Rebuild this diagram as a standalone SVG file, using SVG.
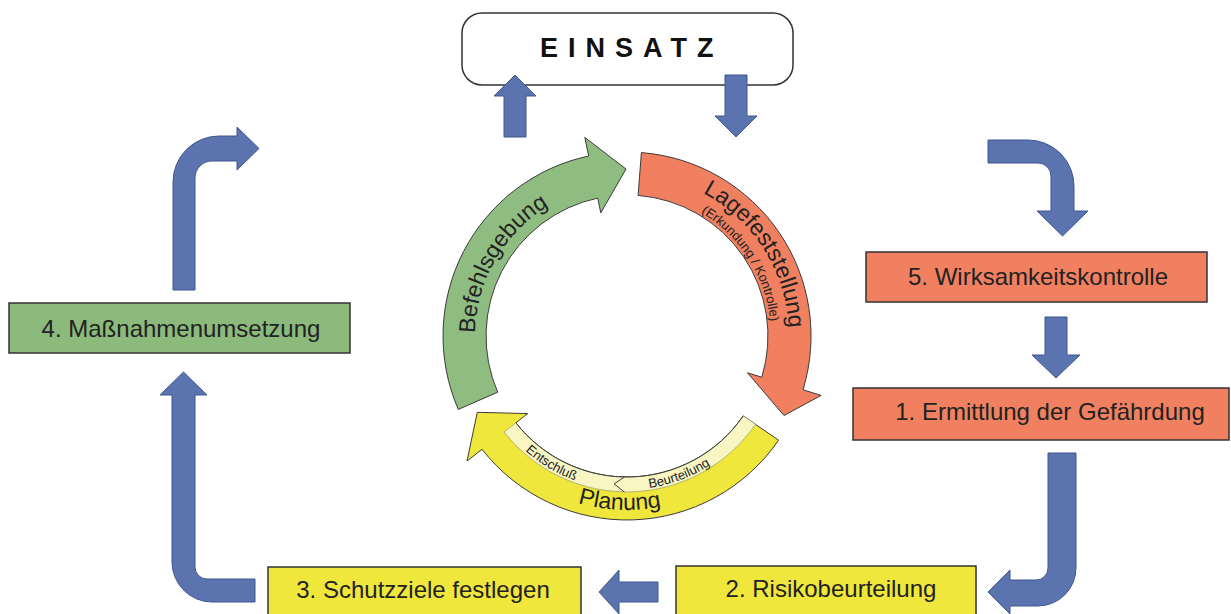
<svg xmlns="http://www.w3.org/2000/svg" width="1231" height="614" viewBox="0 0 1231 614">
<style>
.box{stroke:#333;stroke-width:1.5}
.lbl{font-family:"Liberation Sans",Arial,sans-serif;font-size:24px;fill:#222;text-anchor:middle}
.blue{fill:#5b74b0;stroke:#41578e;stroke-width:1}
.arc{stroke:#3b3b3b;stroke-width:1}
.arctxt{font-family:"Liberation Sans",Arial,sans-serif;font-size:23px;fill:#222}
.small{font-family:"Liberation Sans",Arial,sans-serif;font-size:13px;fill:#222}
</style>
<defs>
<path id="pGreen" d="M480.2,375.3 A152,152 0 0 1 587.7,189.2"/>
<path id="pLage" d="M668.9,179.6 A162,162 0 0 1 786.5,364.1"/>
<path id="pLageS" d="M664.5,197.0 A144,144 0 0 1 768.8,361.0"/>
<path id="pPlan" d="M476.3,423 A174,174 0 0 0 769.5,435.8"/>
<path id="pEnt" d="M502.4,425.2 A153.5,153.5 0 0 0 608.3,488.4"/>
<path id="pBeu" d="M632.4,489.4 A153.5,153.5 0 0 0 724.1,455.0"/>
</defs>
<rect width="1231" height="614" fill="#fff"/>

<g id="einsatz">
<rect x="462" y="13" width="331" height="72" rx="20" fill="#fff" stroke="#333" stroke-width="1.5"/>
<text x="540" y="57" font-family="Liberation Sans,Arial,sans-serif" font-size="27" font-weight="bold" letter-spacing="10" fill="#111">EINSATZ</text>
</g>

<g id="box5">
<rect class="box" x="866" y="252" width="341" height="50" fill="#f08060"/>
<text class="lbl" x="1038" y="285">5. Wirksamkeitskontrolle</text>
</g>
<g id="box1">
<rect class="box" x="853" y="388" width="376" height="52" fill="#f08060"/>
<text class="lbl" x="1050" y="420">1. Ermittlung der Gefährdung</text>
</g>
<g id="box4">
<rect class="box" x="9" y="303" width="341" height="50" fill="#8cba7c"/>
<text class="lbl" x="181" y="337">4. Maßnahmenumsetzung</text>
</g>
<g id="box3">
<rect class="box" x="268" y="567" width="313" height="60" fill="#f0e73c"/>
<text class="lbl" x="423" y="598">3. Schutzziele festlegen</text>
</g>
<g id="box2">
<rect class="box" x="676" y="566" width="300" height="60" fill="#f0e73c"/>
<text class="lbl" x="831" y="597">2. Risikobeurteilung</text>
</g>

<g id="cycle-befehlsgebung">
<path class="arc" fill="#8fbc80" d="M458.3,409.4 A184,184 0 0 1 588.7,156.0 L584.8,137.4 L626,169 L600.8,212.8 L597.7,198.1 A141,141 0 0 0 497.7,392.2 Z"/>
<text class="arctxt"><textPath href="#pGreen" startOffset="50%" text-anchor="middle">Befehlsgebung</textPath></text>
</g>
<g id="cycle-lagefeststellung">
<path class="arc" fill="#f08060" d="M641.4,152.6 A184,184 0 0 1 803.0,389.8 L821.1,395.4 L784,415.5 L747.5,372.8 L761.8,377.2 A141,141 0 0 0 638.1,195.4 Z"/>
<text class="arctxt"><textPath href="#pLage" startOffset="50%" text-anchor="middle">Lagefeststellung</textPath></text>
<text class="small" font-size="12"><textPath href="#pLageS" startOffset="50%" text-anchor="middle">(Erkundung / Kontrolle)</textPath></text>
</g>
<g id="cycle-planung">
<path class="arc" fill="#f0e73c" d="M778.6,440.2 A184,184 0 0 1 482.0,449.3 L467.0,461.0 L477.3,412.3 L527.7,413.6 L515.9,422.8 A141,141 0 0 0 743.2,415.9 Z"/>
<path fill="#f9f6c4" stroke="#8a8a6a" stroke-width="0.6" d="M743.2,415.9 A141,141 0 0 1 515.9,422.8 L504.1,432.0 A156,156 0 0 0 755.6,424.2 Z"/>
<path fill="none" class="arc" d="M743.2,415.9 A141,141 0 0 1 515.9,422.8"/>
<polyline fill="none" stroke="#3b3b3b" stroke-width="1" points="624.5,477.0 614.1,483.9 624.3,492.0"/>
<text class="arctxt"><textPath href="#pPlan" startOffset="50%" text-anchor="middle">Planung</textPath></text>
<text class="small"><textPath href="#pEnt" startOffset="50%" text-anchor="middle">Entschluß</textPath></text>
<text class="small"><textPath href="#pBeu" startOffset="50%" text-anchor="middle">Beurteilung</textPath></text>
</g>

<g id="connectors">
<path class="blue" d="M504,137 L504,96 L494,96 L515,75 L536,96 L526,96 L526,137 Z"/>
<path class="blue" d="M725,75 L747,75 L747,116 L757,116 L736,137 L715,116 L725,116 Z"/>
<path class="blue" d="M988,140 L1028,140 A46,46 0 0 1 1074,186 L1074,211 L1088,211 L1062.5,236 L1037,211 L1051,211 L1051,176 A13,13 0 0 0 1038,163 L988,163 Z"/>
<path class="blue" d="M1045,317 L1067,317 L1067,355 L1080,355 L1056,378 L1032,355 L1045,355 Z"/>
<path class="blue" d="M1048,453 L1076,453 L1076,568 A38,38 0 0 1 1038,606 L1010,606 L1010,614 L988,592 L1010,570 L1010,580 L1036,580 A12,12 0 0 0 1048,568 Z"/>
<path class="blue" d="M658,582 L658,602 L619,602 L619,614 L599,592 L619,570 L619,582 Z"/>
<path class="blue" d="M255,579 L255,602 L212,602 A40,40 0 0 1 172,562 L172,395 L160,395 L183.5,372 L207,395 L195,395 L195,567 A12,12 0 0 0 207,579 Z"/>
<path class="blue" d="M173,290 L173,182 A46,46 0 0 1 219,136 L237,136 L237,127 L259,148.5 L237,170 L237,161 L212,161 A17,17 0 0 0 195,178 L195,290 Z"/>
</g>
</svg>
